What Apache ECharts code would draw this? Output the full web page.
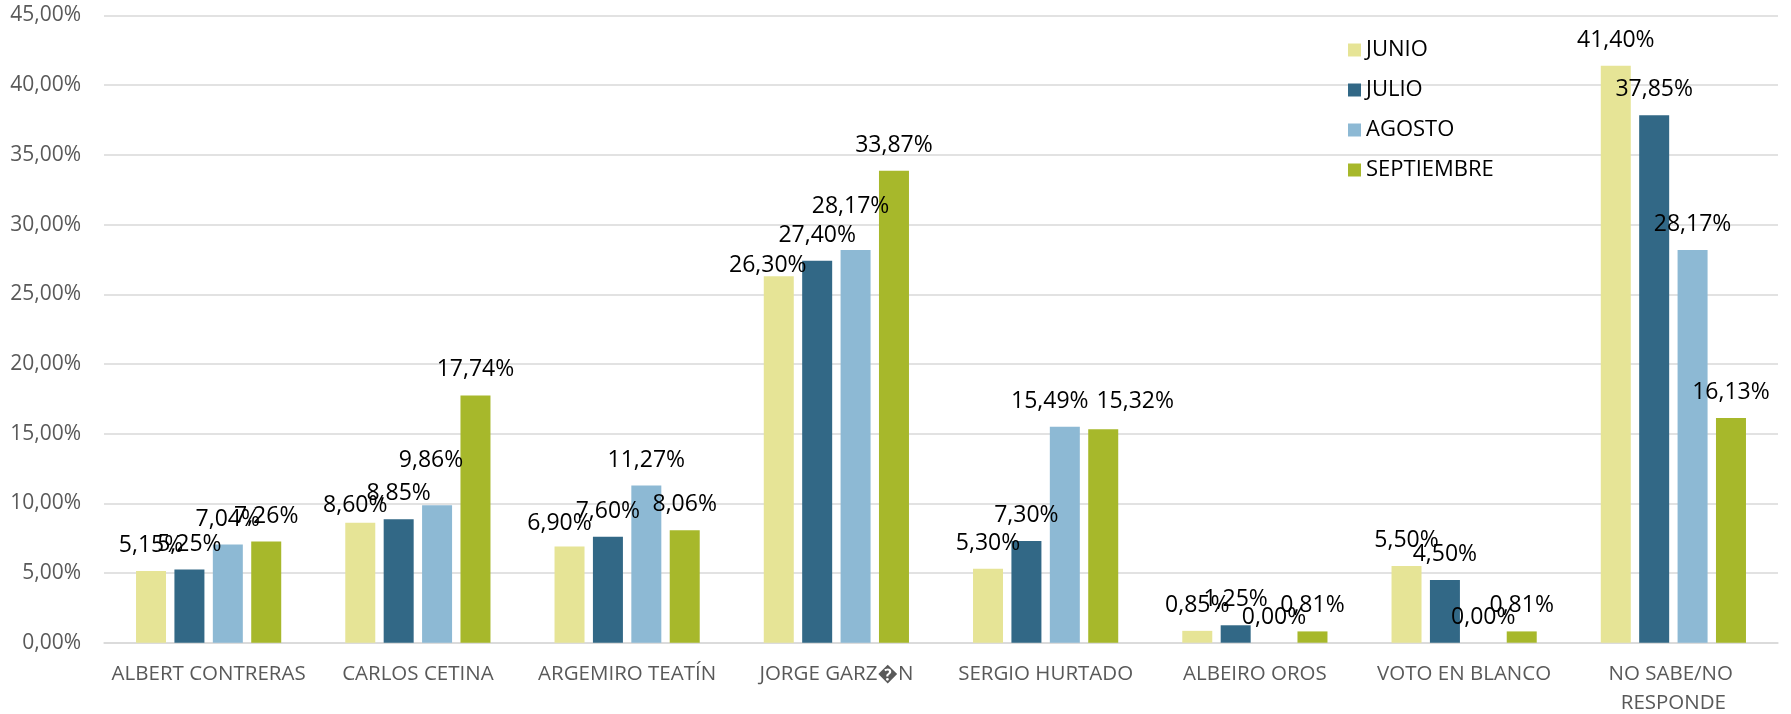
<!DOCTYPE html>
<html>
<head>
<meta charset="utf-8">
<script src="https://cdn.jsdelivr.net/npm/echarts@6/dist/echarts.min.js"></script>
<style>
html,body{margin:0;padding:0;background:#fff;}
#chart{width:1791px;height:714px;}
</style>
</head>
<body>
<div id="chart"></div>
<script>
const categories = ["ALBERT CONTRERAS", "CARLOS CETINA", "ARGEMIRO TEATÍN", "JORGE GARZ\uFFFDN", "SERGIO HURTADO", "ALBEIRO OROS", "VOTO EN BLANCO", "NO SABE/NO RESPONDE"];
const seriesNames = ["JUNIO", "JULIO", "AGOSTO", "SEPTIEMBRE"];
const junio = [5.15, 8.60, 6.90, 26.30, 5.30, 0.85, 5.50, 41.40];
const julio = [5.25, 8.85, 7.60, 27.40, 7.30, 1.25, 4.50, 37.85];
const agosto = [7.04, 9.86, 11.27, 28.17, 15.49, 0.00, 0.00, 28.17];
const septiembre = [7.26, 17.74, 8.06, 33.87, 15.32, 0.81, 0.81, 16.13];
const yTicks = [0, 5, 10, 15, 20, 25, 30, 35, 40, 45];

const colors = ["#E6E496", "#326886", "#8DB9D4", "#A7B82B"];
// label nudges (style only): key "seriesIndex-categoryIndex" -> [dx, dy]
const labelNudges = {
  "0-1": [-5, 8],
  "2-1": [-6, -19],
  "0-2": [-10, 2],
  "0-3": [-11, 15],
  "2-3": [-5, -18],
  "2-4": [-15, 0],
  "3-4": [32, -2]
};

const fmt = v => v.toFixed(2).replace('.', ',') + '%';
const allValues = [junio, julio, agosto, septiembre];

const series = allValues.map((vals, si) => ({
  name: seriesNames[si],
  type: 'bar',
  barWidth: 30,
  barGap: '28%',
  itemStyle: { color: colors[si] },
  label: {
    show: true,
    position: 'top',
    distance: 14,
    color: '#000',
    fontFamily: 'Open Sans',
    fontSize: 23,
    formatter: p => fmt(p.value)
  },
  data: vals.map((v, ci) => {
    const n = labelNudges[si + '-' + ci];
    return n ? { value: v, label: { offset: n } } : v;
  })
}));

const chart = echarts.init(document.getElementById('chart'));
chart.setOption({
  animation: false,
  backgroundColor: '#fff',
  grid: { left: 104, right: 13, top: 15.5, bottom: 71.3, containLabel: false, outerBoundsMode: 'none' },
  legend: {
    orient: 'vertical',
    left: 1343,
    top: 34,
    itemWidth: 13,
    itemHeight: 13,
    itemGap: 18,
    icon: 'rect',
    data: seriesNames,
    textStyle: { color: '#000', fontFamily: 'Open Sans', fontSize: 22, lineHeight: 22 }
  },
  xAxis: {
    type: 'category',
    data: categories,
    axisTick: { show: false },
    axisLine: { lineStyle: { color: '#d9d9d9', width: 1.5 } },
    axisLabel: {
      color: '#595959',
      fontFamily: 'Open Sans',
      fontSize: 20.5,
      lineHeight: 29,
      margin: 17,
      interval: 0,
      width: 205,
      overflow: 'break'
    }
  },
  yAxis: {
    type: 'value',
    min: yTicks[0],
    max: yTicks[yTicks.length - 1],
    interval: yTicks[1] - yTicks[0],
    axisLine: { show: false },
    axisTick: { show: false },
    splitLine: { lineStyle: { color: '#d9d9d9', width: 1.5 } },
    axisLabel: {
      color: '#595959',
      fontFamily: 'Open Sans',
      fontSize: 21,
      margin: 23,
      formatter: v => fmt(v)
    }
  },
  series: series
});
</script>
</body>
</html>
